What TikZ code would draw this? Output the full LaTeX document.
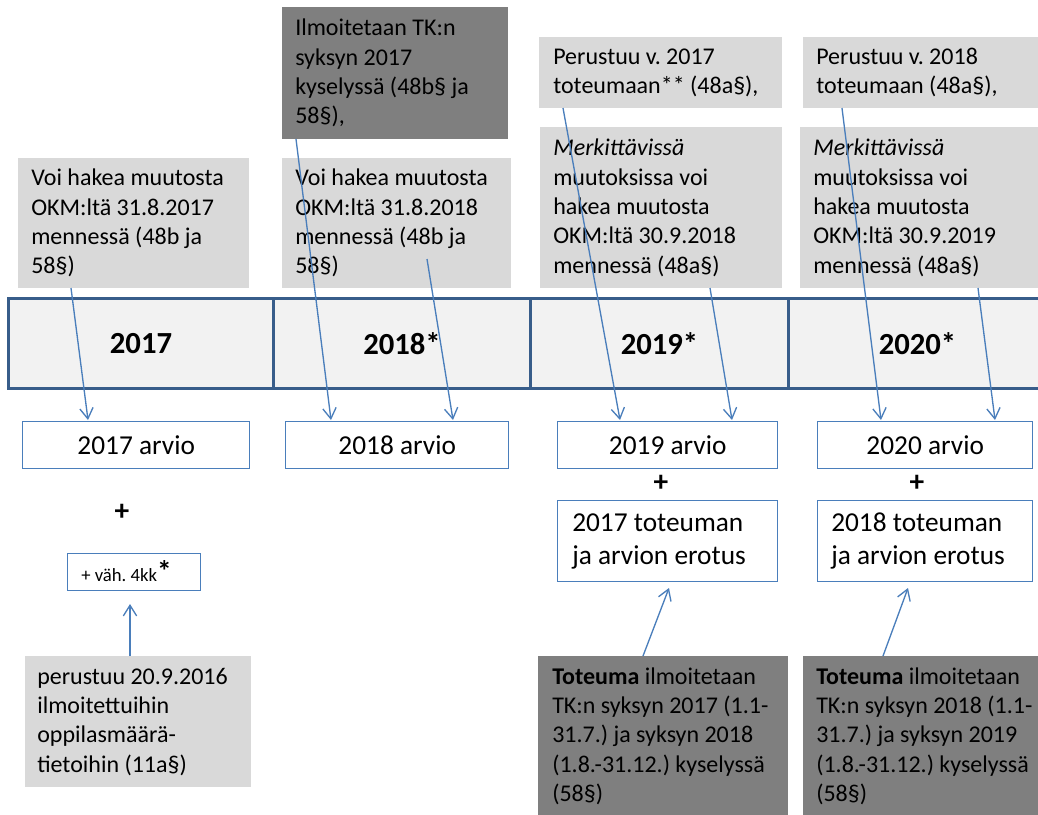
\documentclass[tikz,border=0pt]{standalone}
\usepackage{fontspec}
\setmainfont{Carlito}
\usetikzlibrary{arrows.meta}
\definecolor{lgray}{HTML}{D9D9D9}
\definecolor{dgray}{HTML}{7F7F7F}
\definecolor{barfill}{HTML}{F2F2F2}
\definecolor{barline}{HTML}{385D8A}
\definecolor{blueline}{HTML}{4A7EBB}
\newcommand\bodyfont{\fontsize{18}{22}\selectfont}
\newcommand\arvfont{\fontsize{20.5}{24.75}\selectfont}
\frenchspacing
\begin{document}
\begin{tikzpicture}[x=0.75pt,y=-0.75pt,
 lbox/.style={fill=lgray, anchor=north west, inner sep=0pt},
 dbox/.style={fill=dgray, anchor=north west, inner sep=0pt},
 txt/.style={anchor=west, align=left, inner sep=0pt, font=\bodyfont},
 yearcell/.style={draw=barline, line width=2.25pt, fill=barfill, anchor=north west, minimum height=67.5pt, inner sep=0pt, font=\fontsize{23}{28}\selectfont\bfseries},
 arvbox/.style={draw=blueline, line width=1.1pt, fill=white, anchor=north west, inner sep=0pt, font=\arvfont},
 arvtxt/.style={anchor=west, align=left, inner sep=0pt, font=\arvfont},
 conn/.style={draw=blueline, line width=1pt, -{Straight Barb[length=8pt,width=10pt,line width=1pt]}},
 plus/.style={font=\fontsize{22}{26}\selectfont\bfseries, inner sep=0pt},
]
\clip (0,0) rectangle (1038,814);

% upper text boxes
\node[lbox, minimum width=173.25pt, minimum height=97.5pt] (A) at (18,158) {};
\node[txt] (At) at ([xshift=9.75pt]A.west)
 {Voi hakea muutosta\\OKM:ltä 31.8.2017\\mennessä (48b ja\\58§)};
\node[dbox, minimum width=169.5pt, minimum height=99pt] (B) at (282,7) {};
\node[txt] (Bt) at ([xshift=9.75pt]B.west)
 {Ilmoitetaan TK:n\\syksyn 2017\\kyselyssä (48b§ ja\\58§),};
\node[lbox, minimum width=171.75pt, minimum height=97.5pt] (C) at (282,158) {};
\node[txt] (Ct) at ([xshift=9.75pt]C.west)
 {Voi hakea muutosta\\OKM:ltä 31.8.2018\\mennessä (48b ja\\58§)};
\node[lbox, minimum width=182.25pt, minimum height=53.25pt] (D) at (539,37) {};
\node[txt] (Dt) at ([xshift=10.5pt]D.west)
 {Perustuu v. 2017\\toteumaan** (48a§),};
\node[lbox, minimum width=181.5pt, minimum height=120.75pt] (E) at (540,127) {};
\node[txt] (Et) at ([xshift=9.75pt]E.west)
 {\textit{Merkittävissä}\\muutoksissa voi\\hakea muutosta\\OKM:ltä 30.9.2018\\mennessä (48a§)};
\node[lbox, minimum width=187.5pt, minimum height=53.25pt] (F) at (803,37) {};
\node[txt] (Ft) at ([xshift=9.75pt]F.west)
 {Perustuu v. 2018\\toteumaan (48a§),};
\node[lbox, minimum width=187.5pt, minimum height=120.75pt] (G) at (800,127) {};
\node[txt] (Gt) at ([xshift=9.75pt]G.west)
 {\textit{Merkittävissä}\\muutoksissa voi\\hakea muutosta\\OKM:ltä 30.9.2019\\mennessä (48a§)};

% timeline bar
\node[yearcell, minimum width=198.75pt] (y17) at (7,297) {2017};
\node[yearcell, minimum width=192.75pt] (y18) at (272,297) {2018*};
\node[yearcell, minimum width=193.5pt] (y19) at (529,297) {2019*};
\node[yearcell, minimum width=193.5pt] (y20) at (787,297) {2020*};

% arvio boxes
\node[arvbox, minimum width=170.25pt, minimum height=35.25pt] (a17) at (22,421) {2017 arvio};
\node[arvbox, minimum width=167.25pt, minimum height=35.25pt] (a18) at (285,421) {2018 arvio};
\node[arvbox, minimum width=165pt, minimum height=35.25pt] (a19) at (557,421) {2019 arvio};
\node[arvbox, minimum width=161.25pt, minimum height=35.25pt] (a20) at (817,421) {2020 arvio};

\node[plus] (p17) at (122,512) {+};
\node[plus] (p19) at (661,483) {+};
\node[plus] (p20) at (917,483) {+};

\node[arvbox, minimum width=165pt, minimum height=60.75pt] (e19) at (557,500) {};
\node[arvtxt] (e19t) at ([xshift=11.25pt]e19.west) {2017 toteuman\\ja arvion erotus};
\node[arvbox, minimum width=161.25pt, minimum height=60.75pt] (e20) at (817,500) {};
\node[arvtxt] (e20t) at ([xshift=10.5pt]e20.west) {2018 toteuman\\ja arvion erotus};

\node[arvbox, minimum width=99.75pt, minimum height=27.75pt] (v17) at (67,553) {};
\node[arvtxt] (v17t) at ([xshift=10.5pt,yshift=1pt]v17.west)
 {{\fontsize{14}{17}\selectfont + väh. 4kk}{\fontsize{22}{24}\selectfont\bfseries *}};

% lower text boxes
\node[lbox, minimum width=169.5pt, minimum height=98.25pt] (P) at (25,656) {};
\node[txt] (Pt) at ([xshift=9pt]P.west)
 {perustuu 20.9.2016\\ilmoitettuihin\\oppilasmäärä-\\tietoihin (11a§)};
\node[dbox, minimum width=187.5pt, minimum height=120pt] (T1) at (538,656) {};
\node[txt] (T1t) at ([xshift=10.5pt]T1.west)
 {\textbf{Toteuma} ilmoitetaan\\TK:n syksyn 2017 (1.1-\\31.7.) ja syksyn 2018\\(1.8.-31.12.) kyselyssä\\(58§)};
\node[dbox, minimum width=187.5pt, minimum height=120pt] (T2) at (803,656) {};
\node[txt] (T2t) at ([xshift=9.75pt]T2.west)
 {\textbf{Toteuma} ilmoitetaan\\TK:n syksyn 2018 (1.1-\\31.7.) ja syksyn 2019\\(1.8.-31.12.) kyselyssä\\(58§)};

% connector end points
\coordinate (sA) at (71,288);  \coordinate (tA) at (88,420);
\coordinate (sB) at (296,139); \coordinate (tB) at (331,420);
\coordinate (sC) at (427,259); \coordinate (tC) at (453,420);
\coordinate (sD) at (563,108); \coordinate (tD) at (620,420);
\coordinate (sE) at (710,288); \coordinate (tE) at (732,420);
\coordinate (sF) at (842,108); \coordinate (tF) at (881,420);
\coordinate (sG) at (978,288); \coordinate (tG) at (995,420);
\coordinate (sP) at (130,656); \coordinate (tP) at (130,604);
\coordinate (s19) at (643,656); \coordinate (t19) at (669,588);
\coordinate (s20) at (883,656); \coordinate (t20) at (908,588);

\draw[conn] (sA) -- (tA);
\draw[conn] (sB) -- (tB);
\draw[conn] (sC) -- (tC);
\draw[conn] (sD) -- (tD);
\draw[conn] (sE) -- (tE);
\draw[conn] (sF) -- (tF);
\draw[conn] (sG) -- (tG);
\draw[conn] (sP) -- (tP);
\draw[conn] (s19) -- (t19);
\draw[conn] (s20) -- (t20);
\end{tikzpicture}
\end{document}
